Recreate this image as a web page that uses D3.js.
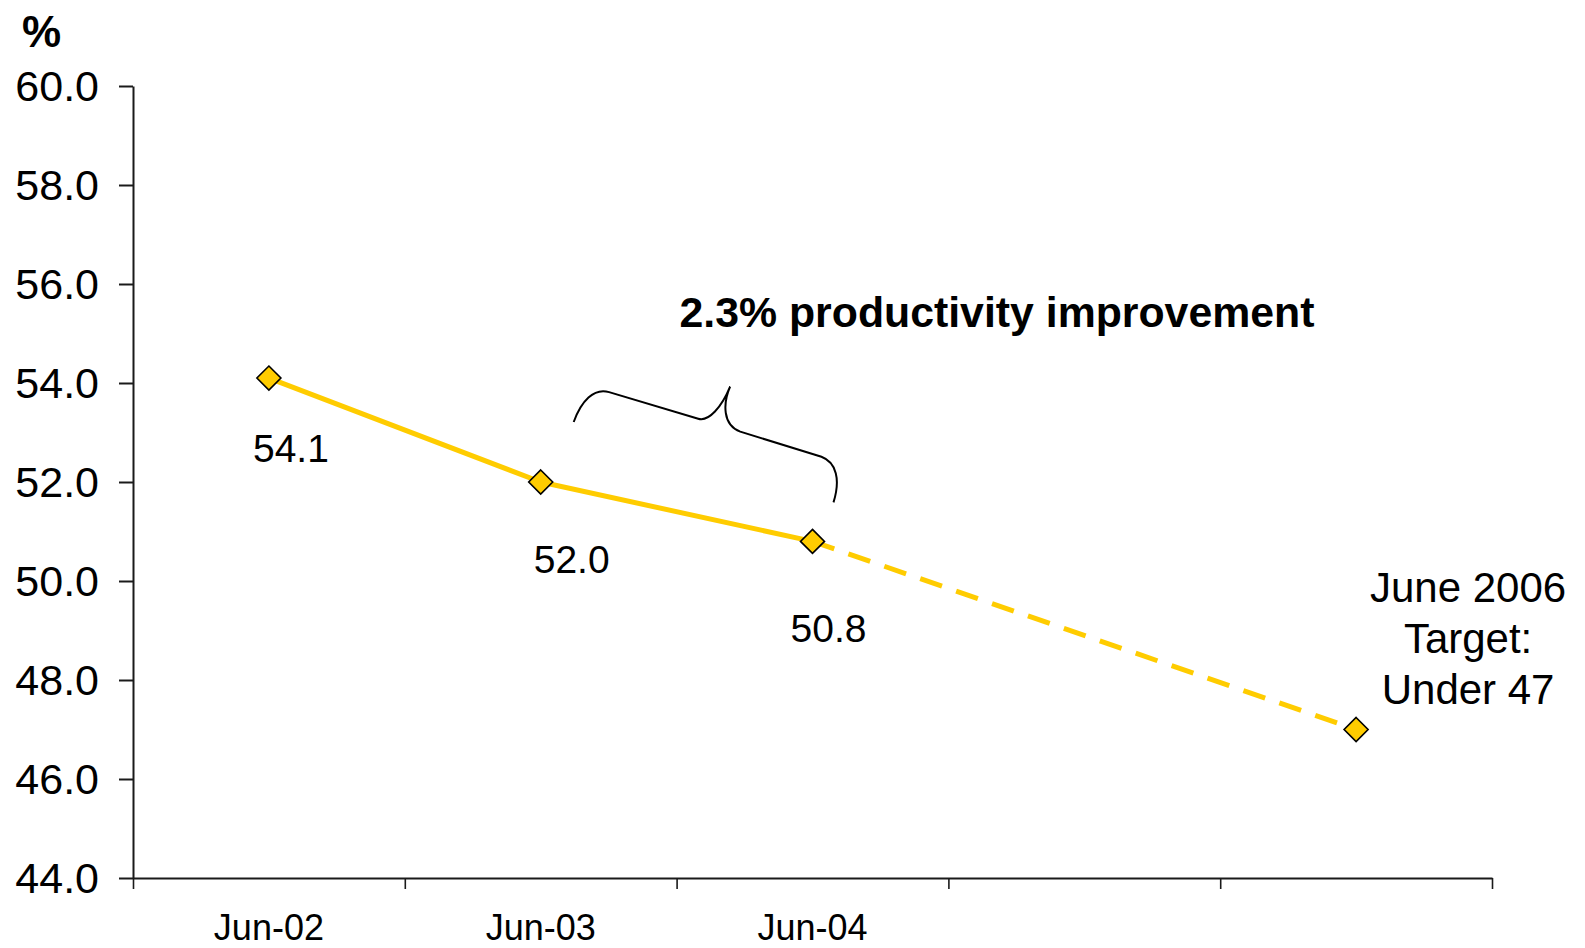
<!DOCTYPE html>
<html>
<head>
<meta charset="utf-8">
<script src="https://cdn.jsdelivr.net/npm/d3@7"></script>
<style>
  html, body { margin: 0; padding: 0; background: #fff; }
  svg text { font-family: Arial, "Liberation Sans", sans-serif; fill: #000; }
</style>
</head>
<body>
<svg id="chart" width="1585" height="948"></svg>
<script>
// ---- data ----
const categories = ["Jun-02", "Jun-03", "Jun-04", "Jun-05", "Jun-06"];
const xTickLabels = ["Jun-02", "Jun-03", "Jun-04", "", ""];
const values = [54.1, 52.0, 50.8, null, 47.0];
const dataLabels = ["54.1", "52.0", "50.8", null, null];
const yTicks = [44, 46, 48, 50, 52, 54, 56, 58, 60];
const yDomain = [44, 60];
const actualIdx = [0, 1, 2];      // solid segment
const projectedIdx = [2, 4];      // dashed segment
const targetLines = ["June 2006", "Target:", "Under 47"];
const annotationText = "2.3% productivity improvement";
const yUnit = "%";

(function () {
// ---- layout ----
const svg = d3.select("#chart");
const mLeft = 133, mRight = 1492, mTop = 86, mBottom = 878;
const yellow = "#FFCC00";

const y = d3.scaleLinear().domain(yDomain).range([mBottom, mTop]);
const x = d3.scaleBand().domain(categories).range([mLeft, mRight]).padding(0);
const xBound = d3.scaleLinear().domain([0, categories.length]).range([mLeft, mRight]);
const xc = c => x(c) + x.bandwidth() / 2;

// y axis
const yAxis = svg.append("g").attr("transform", `translate(${mLeft},0)`)
  .call(d3.axisLeft(y).tickValues(yTicks).tickFormat(d3.format(".1f"))
    .tickSizeInner(14).tickSizeOuter(0).tickPadding(20));
yAxis.select(".domain").attr("stroke", "#1a1a1a").attr("stroke-width", 2);
yAxis.selectAll(".tick line").attr("stroke", "#1a1a1a").attr("stroke-width", 2);
yAxis.selectAll(".tick text").attr("font-size", 43).attr("fill", "#000")
  .attr("font-family", "Arial, 'Liberation Sans', sans-serif").attr("dy", "0.34em");

// x axis (ticks at category boundaries)
const xAxis = svg.append("g").attr("transform", `translate(0,${mBottom})`)
  .call(d3.axisBottom(xBound).ticks(categories.length).tickSizeInner(11).tickSizeOuter(0).tickFormat(""));
xAxis.select(".domain").attr("stroke", "#1a1a1a").attr("stroke-width", 2);
xAxis.selectAll(".tick line").attr("stroke", "#1a1a1a").attr("stroke-width", 1.6);

svg.append("g").selectAll("text").data(categories).join("text")
  .attr("x", d => xc(d)).attr("y", 940)
  .attr("text-anchor", "middle").attr("font-size", 36)
  .text((d, i) => xTickLabels[i]);

// unit label
svg.append("text").attr("x", 22).attr("y", 47).attr("font-size", 44).attr("font-weight", "bold").text(yUnit);

// lines
const line = d3.line().x(i => xc(categories[i])).y(i => y(values[i]));
svg.append("path").attr("d", line(actualIdx)).attr("fill", "none")
  .attr("stroke", yellow).attr("stroke-width", 5).attr("stroke-linejoin", "round");
svg.append("path").attr("d", line(projectedIdx)).attr("fill", "none")
  .attr("stroke", yellow).attr("stroke-width", 5).attr("stroke-dasharray", "23 15");

// markers
const pts = values.map((v, i) => ({ v, i })).filter(d => d.v != null);
svg.append("g").selectAll("path").data(pts).join("path")
  .attr("transform", d => `translate(${xc(categories[d.i])},${y(d.v)})`)
  .attr("d", "M0,-12L12,0L0,12L-12,0Z")
  .attr("fill", yellow).attr("stroke", "#000").attr("stroke-width", 1.6);

// data labels
const labelDx = [22, 31, 16];
const labelDy = [84, 91, 101];
svg.append("g").selectAll("text").data(pts.filter(d => dataLabels[d.i] != null)).join("text")
  .attr("x", (d, k) => xc(categories[d.i]) + labelDx[k])
  .attr("y", (d, k) => y(d.v) + labelDy[k])
  .attr("text-anchor", "middle").attr("font-size", 39)
  .text(d => dataLabels[d.i]);

// target label
const tgt = svg.append("text").attr("text-anchor", "middle").attr("font-size", 42);
targetLines.forEach((t, k) => {
  tgt.append("tspan").attr("x", xc(categories[4]) + 112).attr("y", y(values[4]) - 128 + k * 51).text(t);
});

// annotation text
svg.append("text").attr("x", 997).attr("y", 327).attr("text-anchor", "middle")
  .attr("font-size", 42.8).attr("font-weight", "bold").text(annotationText);

// brace between Jun-03 and Jun-04
const P0 = [xc(categories[1]) + 33, y(values[1]) - 60];
const P1 = [xc(categories[2]) + 21, y(values[2]) - 39];
const L = Math.hypot(P1[0] - P0[0], P1[1] - P0[1]);
const ang = Math.atan2(P1[1] - P0[1], P1[0] - P0[0]) * 180 / Math.PI;
const s = L / 272;
const a = v => v * s;
const bracePath =
  `M0,0 C${a(1)},-22 ${a(9)},-39 ${a(25)},-39 ` +
  `L${a(118)},-40 C${a(129)},-40 ${a(137)},-58 ${a(139)},-80 ` +
  `C${a(137)},-62 ${a(143)},-41 ${a(162)},-40 ` +
  `L${a(247)},-40 C${a(263)},-39 ${a(272)},-24 ${a(272)},0`;
svg.append("path").attr("transform", `translate(${P0[0]},${P0[1]}) rotate(${ang})`)
  .attr("d", bracePath).attr("fill", "none").attr("stroke", "#000").attr("stroke-width", 2);
})();
</script>
</body>
</html>
